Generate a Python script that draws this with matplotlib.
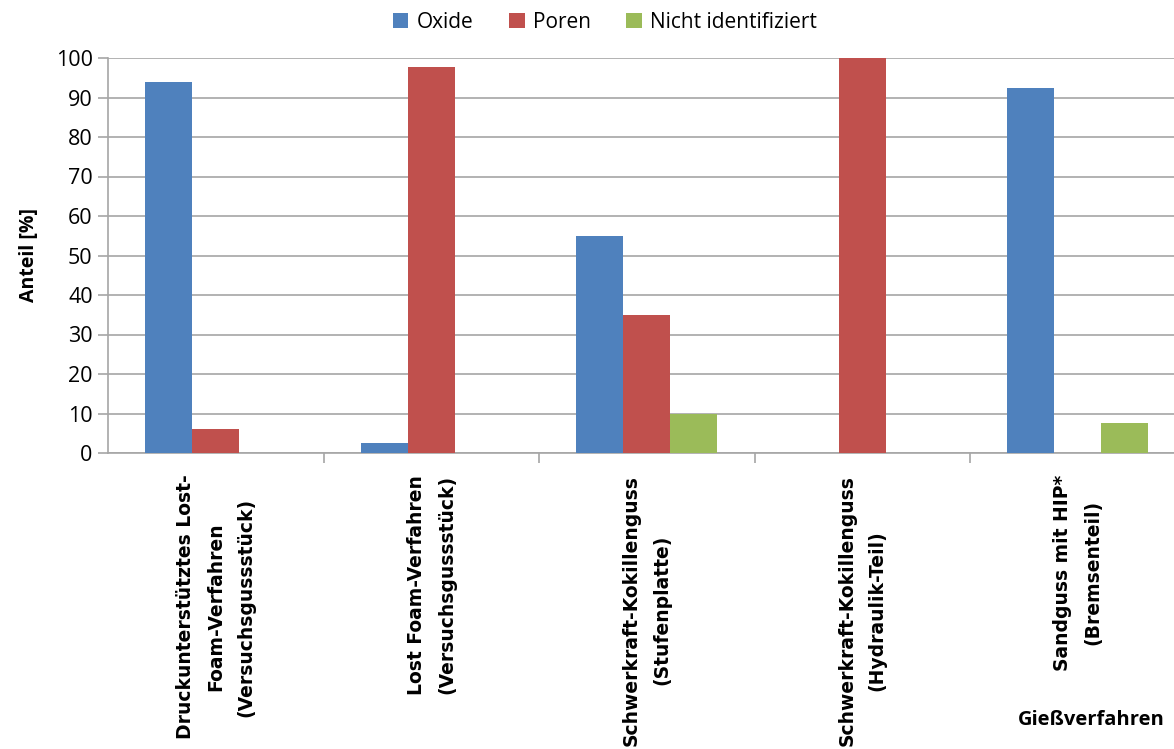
import numpy as np
import matplotlib.pyplot as plt
from matplotlib.ticker import FixedLocator

categories = [
    "Druckunterstütztes Lost-\nFoam-Verfahren\n(Versuchsgussstück)",
    "Lost Foam-Verfahren\n(Versuchsgussstück)",
    "Schwerkraft-Kokillenguss\n(Stufenplatte)",
    "Schwerkraft-Kokillenguss\n(Hydraulik-Teil)",
    "Sandguss mit HIP*\n(Bremsenteil)",
]
oxide = [94, 2.5, 55, 0, 92.3]
poren = [6, 97.6, 35, 100, 0]
nicht = [0, 0, 10, 0, 7.6]
series = ["Oxide", "Poren", "Nicht identifiziert"]
colors = ["#4F81BD", "#C0504D", "#9BBB59"]

W, H = 1174, 749
fig = plt.figure(figsize=(W / 100, H / 100), dpi=100)
ax = fig.add_axes([108 / W, 1 - 453 / H, 1077.5 / W, 395 / H])

x = np.arange(len(categories))
bw = 0.218
for i, (vals, name, c) in enumerate(zip([oxide, poren, nicht], series, colors)):
    ax.bar(x + (i - 1) * bw, vals, bw, color=c, label=name, zorder=3)

ax.set_xlim(-0.5, len(categories) - 0.5)
ax.set_ylim(0, 100)
ax.set_yticks(np.arange(0, 101, 10))
ax.yaxis.grid(True, color="#A6A6A6", linewidth=1.2, zorder=0)
for s in ["top", "right"]:
    ax.spines[s].set_visible(False)
for s in ["left", "bottom"]:
    ax.spines[s].set_color("#A6A6A6")
    ax.spines[s].set_linewidth(1.2)

ax.tick_params(axis="y", length=7, color="#A6A6A6", width=1.2, labelsize=15.5,
               pad=4)
for t in ax.get_yticklabels():
    t.set_family("Open Sans")
ax.set_xticks(x)
ax.set_xticklabels([])
ax.tick_params(axis="x", which="major", length=0)
ax.xaxis.set_minor_locator(FixedLocator(np.arange(0.5, len(categories) - 0.5, 1)))
ax.tick_params(axis="x", which="minor", length=7, color="#A6A6A6", width=1.2)

for xi, lab in zip(x, categories):
    ax.text(xi, -5.5, lab, rotation=90, ha="center", va="top",
            fontsize=13.5, fontweight="bold", family="DejaVu Sans",
            linespacing=1.75, multialignment="center")

ax.set_ylabel("Anteil [%]", fontsize=14, fontweight="bold", family="Open Sans",
              labelpad=12)
fig.text(1165 / W, 1 - 720 / H, "Gießverfahren", ha="right", va="center",
         fontsize=14.5, fontweight="bold", family="Open Sans")

fig.legend(loc="center", bbox_to_anchor=(605 / W, 1 - 22 / H), ncol=3,
           frameon=False, handlelength=0.75, handleheight=0.75,
           columnspacing=1.7, handletextpad=0.4,
           prop={"family": "Open Sans", "size": 15})

fig.savefig("out.png", dpi=100)
